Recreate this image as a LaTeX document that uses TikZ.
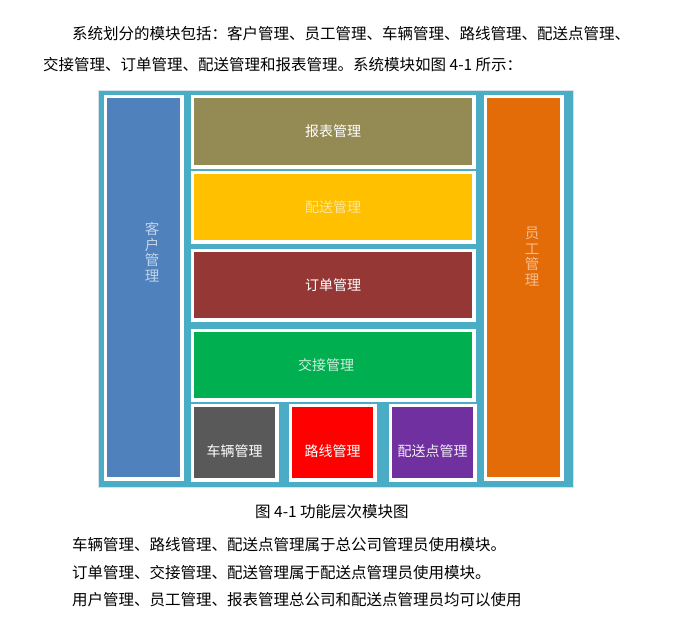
\documentclass[tikz,border=0pt]{standalone}
\usepackage{fontspec}
\setmainfont{Noto Sans CJK SC}
\definecolor{framecyan}{HTML}{4BACC6}
\definecolor{framegray}{HTML}{D5E3E8}
\definecolor{custblue}{HTML}{4F81BD}
\definecolor{reportolive}{HTML}{948A54}
\definecolor{deliveryyellow}{HTML}{FFC000}
\definecolor{orderred}{HTML}{953735}
\definecolor{handovergreen}{HTML}{00B050}
\definecolor{vehiclegray}{HTML}{595959}
\definecolor{routered}{HTML}{FF0000}
\definecolor{pointpurple}{HTML}{7030A0}
\definecolor{stafforange}{HTML}{E36C09}

\begin{document}
\begin{tikzpicture}[x=1pt,y=-1pt,
  body text/.style={anchor=west,inner sep=0pt,font=\fontsize{15.5}{18}\selectfont},
  mod node/.style={rectangle,draw=white,line width=3.5pt,inner sep=0pt,text=white,font=\fontsize{14}{15}\selectfont},
  mod text/.style={inner sep=0pt,text=white,font=\fontsize{14}{15}\selectfont},
  vert text/.style={inner sep=0pt,align=center,text=white,font=\fontsize{14.5}{15.5}\selectfont}]

\useasboundingbox[fill=white] (0,0) rectangle (679,637);

\node[body text] (p1) at (72,34) {系统划分的模块包括：客户管理、员工管理、车辆管理、路线管理、配送点管理、};
\node[body text] (p2) at (43,65) {交接管理、订单管理、配送管理和报表管理。系统模块如图 4-1 所示：};

\node[rectangle,fill=framecyan,draw=framegray,line width=1pt,minimum width=475pt,minimum height=397pt,inner sep=0pt] (frame) at (335.5,288.5) {};

\node[mod node,fill=custblue,minimum width=76.5pt,minimum height=382.5pt] (kehu) at (143.5,287.5) {};
\node[mod node,fill=reportolive,minimum width=281.5pt,minimum height=70.5pt] (baobiao) at (333,131.5) {报表管理};
\node[mod node,fill=deliveryyellow,minimum width=281.5pt,minimum height=69.5pt,text opacity=0.6] (peisong) at (333,207) {配送管理};
\node[mod node,fill=orderred,minimum width=281.5pt,minimum height=69.5pt] (dingdan) at (333,285) {订单管理};
\node[mod node,fill=handovergreen,minimum width=281.5pt,minimum height=69.5pt] (jiaojie) at (333,365) {};
\node[mod node,fill=vehiclegray,minimum width=84.5pt,minimum height=74.5pt] (cheliang) at (234.5,442.5) {};
\node[mod node,fill=routered,minimum width=84.5pt,minimum height=74.5pt] (luxian) at (332.5,442.5) {};
\node[mod node,fill=pointpurple,minimum width=84.5pt,minimum height=74.5pt] (peisongdian) at (432.5,442.5) {};
\node[mod node,fill=stafforange,minimum width=76.5pt,minimum height=382.5pt] (yuangong) at (523.5,287.5) {};

\node[vert text,text opacity=0.65] (kehu label) at ([xshift=8.5pt,yshift=35.5pt]kehu.center) {客\\户\\管\\理};
\node[vert text,text opacity=0.55] (yuangong label) at ([xshift=8.5pt,yshift=31pt]yuangong.center) {员\\工\\管\\理};
\node[mod text,text opacity=0.8] (jiaojie label) at ([xshift=-7pt]jiaojie.center) {交接管理};
\node[mod text] (cheliang label) at ([yshift=-8.5pt]cheliang.center) {车辆管理};
\node[mod text] (luxian label) at ([yshift=-8.5pt]luxian.center) {路线管理};
\node[mod text,text opacity=0.9] (peisongdian label) at ([yshift=-8.5pt]peisongdian.center) {配送点管理};

\node[body text] (caption) at (255,512) {图 4-1 功能层次模块图};
\node[body text] (p3) at (72,545) {车辆管理、路线管理、配送点管理属于总公司管理员使用模块。};
\node[body text] (p4) at (72,573) {订单管理、交接管理、配送管理属于配送点管理员使用模块。};
\node[body text] (p5) at (72,600) {用户管理、员工管理、报表管理总公司和配送点管理员均可以使用};

\end{tikzpicture}
\end{document}
